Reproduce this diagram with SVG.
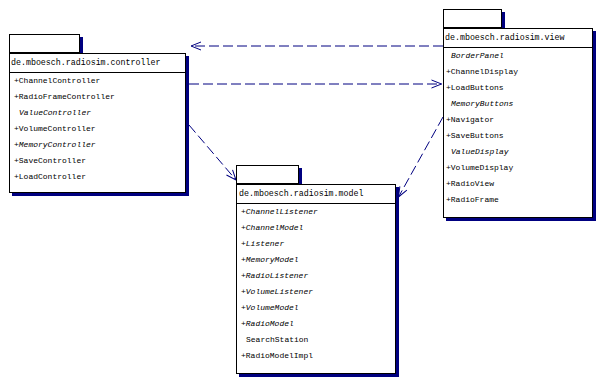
<svg xmlns="http://www.w3.org/2000/svg" width="605" height="386" viewBox="0 0 605 386">
<defs>
<style>
.bg{fill:#ffffff}
.shadow{fill:#000080}
.box{fill:#ffffff;stroke:#000000;stroke-width:1}
.sep{stroke:#000000;stroke-width:1}
.hdr{font-family:"Liberation Mono","DejaVu Sans Mono",monospace;font-size:8.3px;fill:#000000}
.it{font-family:"Liberation Mono","DejaVu Sans Mono",monospace;font-size:8px;fill:#000000}
.ab{font-style:italic}
.dep{fill:none;stroke:#000080;stroke-width:1;stroke-dasharray:10,4;marker-end:url(#open)}
</style>
<marker id="open" viewBox="0 0 12 10" refX="11" refY="5" markerWidth="12" markerHeight="10" markerUnits="userSpaceOnUse" orient="auto">
<path d="M1,1 L11,5 L1,9" fill="none" stroke="#000080" stroke-width="1"/>
</marker>
</defs>
<rect class="bg" x="0" y="0" width="605" height="386"/>

<g id="connectors">
<line class="dep" x1="443" y1="46" x2="191" y2="46"/>
<line class="dep" x1="189" y1="84" x2="441.5" y2="84"/>
<line class="dep" x1="189" y1="125" x2="236" y2="180"/>
<line class="dep" x1="443" y1="117" x2="398.5" y2="197"/>
</g>

<g id="controller">
<rect class="shadow" x="12" y="37" width="71" height="19"/>
<rect class="box" x="9.5" y="34.5" width="70" height="18"/>
<rect class="shadow" x="12" y="56" width="177" height="140"/>
<rect class="box" x="9.5" y="53.5" width="176" height="139"/>
<line class="sep" x1="9.5" y1="72.5" x2="185.5" y2="72.5"/>
<text class="hdr" x="11" y="65">de.mboesch.radiosim.controller</text>
<text class="it" x="14" y="82.5">+ChannelController</text>
<text class="it" x="14" y="98.5">+RadioFrameController</text>
<text class="it ab" x="19" y="114.5">ValueController</text>
<text class="it" x="14" y="130.5">+VolumeController</text>
<text class="it ab" x="14" y="146.5">+MemoryController</text>
<text class="it" x="14" y="162.5">+SaveController</text>
<text class="it" x="14" y="178.5">+LoadController</text>
</g>

<g id="view">
<rect class="shadow" x="446" y="12" width="59" height="19"/>
<rect class="box" x="443.5" y="9.5" width="58" height="18"/>
<rect class="shadow" x="446" y="31" width="150" height="190"/>
<rect class="box" x="443.5" y="28.5" width="149" height="189"/>
<line class="sep" x1="443.5" y1="47.5" x2="592.5" y2="47.5"/>
<text class="hdr" x="445" y="40">de.mboesch.radiosim.view</text>
<text class="it ab" x="451" y="57.5">BorderPanel</text>
<text class="it" x="446" y="73.5">+ChannelDisplay</text>
<text class="it" x="446" y="89.5">+LoadButtons</text>
<text class="it ab" x="451" y="105.5">MemoryButtons</text>
<text class="it" x="446" y="121.5">+Navigator</text>
<text class="it" x="446" y="137.5">+SaveButtons</text>
<text class="it ab" x="451" y="153.5">ValueDisplay</text>
<text class="it" x="446" y="169.5">+VolumeDisplay</text>
<text class="it" x="446" y="185.5">+RadioView</text>
<text class="it" x="446" y="201.5">+RadioFrame</text>
</g>

<g id="model">
<rect class="shadow" x="239" y="168" width="63" height="19"/>
<rect class="box" x="236.5" y="165.5" width="62" height="18"/>
<rect class="shadow" x="239" y="187" width="160" height="190"/>
<rect class="box" x="236.5" y="184.5" width="159" height="189"/>
<line class="sep" x1="236.5" y1="203.5" x2="395.5" y2="203.5"/>
<text class="hdr" x="239" y="196">de.mboesch.radiosim.model</text>
<text class="it ab" x="241" y="214">+ChannelListener</text>
<text class="it ab" x="241" y="230">+ChannelModel</text>
<text class="it ab" x="241" y="246">+Listener</text>
<text class="it ab" x="241" y="262">+MemoryModel</text>
<text class="it ab" x="241" y="278">+RadioListener</text>
<text class="it ab" x="241" y="294">+VolumeListener</text>
<text class="it ab" x="241" y="310">+VolumeModel</text>
<text class="it ab" x="241" y="326">+RadioModel</text>
<text class="it" x="246" y="342">SearchStation</text>
<text class="it" x="241" y="358">+RadioModelImpl</text>
</g>
</svg>
